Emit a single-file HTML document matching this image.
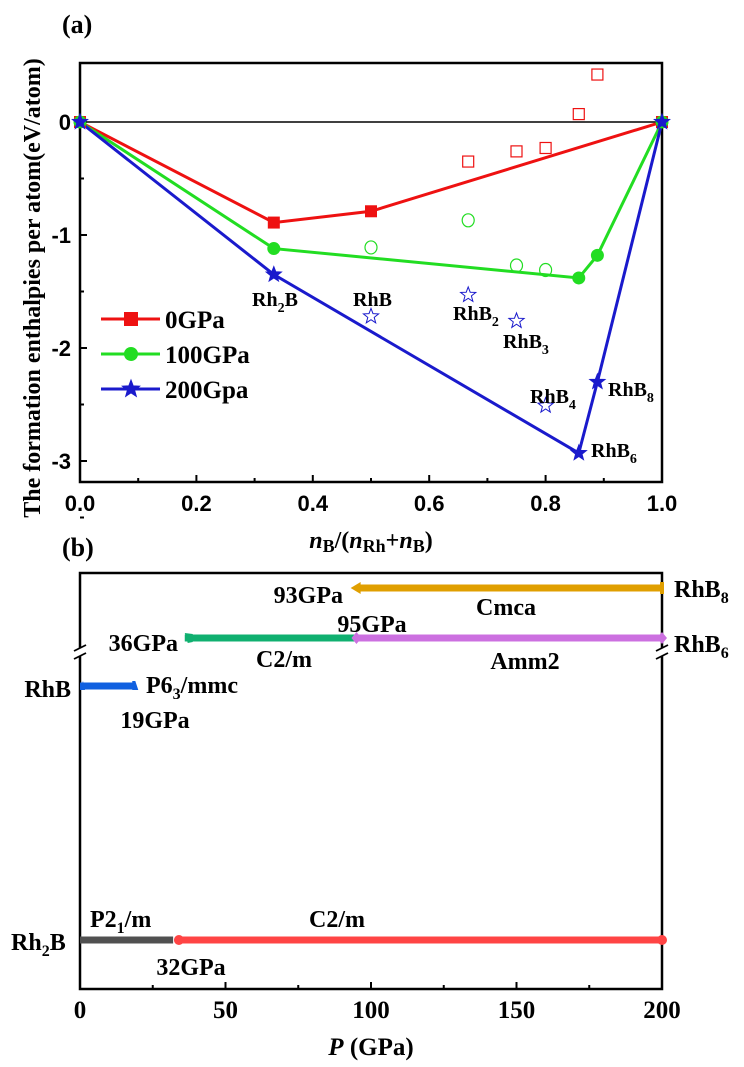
<!DOCTYPE html>
<html><head><meta charset="utf-8"><style>
html,body{margin:0;padding:0;background:#fff;}
svg{display:block;font-family:"Liberation Serif",serif;font-weight:bold;}
</style></head><body>
<svg id="chart" width="744" height="1067" viewBox="0 0 744 1067" xmlns="http://www.w3.org/2000/svg">
<g id="pa"></g>
<g id="pb"></g>
</svg>
<script>
// Panel (a) data
const line0X = [0, 0.333, 0.5, 1];
const line0Y = [0, -0.89, -0.79, 0];
const open0X = [0.667, 0.75, 0.8, 0.857, 0.889];
const open0Y = [-0.35, -0.26, -0.23, 0.07, 0.42];
const line100X = [0, 0.333, 0.857, 0.889, 1];
const line100Y = [0, -1.12, -1.38, -1.18, 0];
const open100X = [0.5, 0.667, 0.75, 0.8];
const open100Y = [-1.11, -0.87, -1.27, -1.31];
const line200X = [0, 0.333, 0.857, 0.889, 1];
const line200Y = [0, -1.35, -2.93, -2.3, 0];
const open200X = [0.5, 0.667, 0.75, 0.8];
const open200Y = [-1.72, -1.53, -1.76, -2.51];
const xTicksA = [0, 0.2, 0.4, 0.6, 0.8, 1.0];
const xTickLabelsA = ["0.0","0.2","0.4","0.6","0.8","1.0"];
const yTicksA = [0, -1, -2, -3];
// Panel (b) data
const xTicksB = [0, 50, 100, 150, 200];
const rhb8Range = [93, 200];
const rhb6C2m = [36, 95];
const rhb6Amm2 = [95, 200];
const rhbRange = [0, 19];
const rh2bP21 = [0, 32];
const rh2bC2m = [34, 200];

const NS = "http://www.w3.org/2000/svg";
function mk(parent, tag, attrs, text) {
  const e = document.createElementNS(NS, tag);
  for (const k in attrs) e.setAttribute(k, attrs[k]);
  if (text !== undefined) e.textContent = text;
  parent.appendChild(e);
  return e;
}
const pa = document.getElementById('pa');
const pb = document.getElementById('pb');
const SANS = '"Liberation Sans", Arial, sans-serif';

// axes a
const AX0 = 80, AX1 = 662, AY0 = 63, AY1 = 482;
const ax = v => AX0 + v * (AX1 - AX0);
const ay = v => 122 - v * 113;

let fr = mk(pa, 'rect', {x: AX0, y: AY0, width: AX1 - AX0, height: AY1 - AY0, fill: 'none', stroke: '#000', 'stroke-width': 2.5});


let zl = mk(pa, 'line', {x1: AX0, x2: AX1, y1: ay(0), y2: ay(0), stroke: '#000', 'stroke-width': 1.5});



xTicksA.forEach((t, i) => {
  mk(pa, 'line', {x1: ax(t), x2: ax(t), y1: AY1, y2: AY1 - 7, stroke: '#000', 'stroke-width': 2});
  if (i < xTicksA.length - 1) mk(pa, 'line', {x1: ax(t + 0.1), x2: ax(t + 0.1), y1: AY1, y2: AY1 - 4, stroke: '#000', 'stroke-width': 2});
  const tl = mk(pa, 'text', {x: ax(t), y: 511, 'text-anchor': 'middle', 'font-size': 22, 'font-family': SANS}, xTickLabelsA[i]);
  
  
});
yTicksA.forEach(t => {
  mk(pa, 'line', {x1: AX0, x2: AX0 + 7, y1: ay(t), y2: ay(t), stroke: '#000', 'stroke-width': 2});
  mk(pa, 'line', {x1: AX0, x2: AX0 + 4, y1: ay(t - 0.5), y2: ay(t - 0.5), stroke: '#000', 'stroke-width': 2});
  const tl = mk(pa, 'text', {x: AX0 - 9, y: ay(t) + 8, 'text-anchor': 'end', 'font-size': 22, 'font-family': SANS}, String(t));
  
  
});

function star(cx, cy, r, fill, stroke) {
  let p = [];
  for (let i = 0; i < 10; i++) {
    const rr = i % 2 ? r * 0.42 : r;
    const a = -Math.PI / 2 + i * Math.PI / 5;
    p.push((cx + rr * Math.cos(a)).toFixed(1) + ',' + (cy + rr * Math.sin(a)).toFixed(1));
  }
  return {points: p.join(' '), fill: fill, stroke: stroke, 'stroke-width': 1};
}
function series(xs, ys, color, name) {
  const pl = mk(pa, 'polyline', {points: xs.map((x, i) => ax(x) + ',' + ay(ys[i])).join(' '), fill: 'none', stroke: color, 'stroke-width': 3});
  
  
}
series(line0X, line0Y, '#ee1111', 'series-0gpa');
series(line100X, line100Y, '#22dd22', 'series-100gpa');
series(line200X, line200Y, '#1a1acc', 'series-200gpa');

line0X.forEach((x, i) => {
  const m = mk(pa, 'rect', {x: ax(x) - 6, y: ay(line0Y[i]) - 6, width: 12, height: 12, fill: '#ee1111'});
  
  
});
line100X.forEach((x, i) => {
  const m = mk(pa, 'circle', {cx: ax(x), cy: ay(line100Y[i]), r: 6.5, fill: '#22dd22'});
  
  
});
line200X.forEach((x, i) => {
  const m = mk(pa, 'polygon', star(ax(x), ay(line200Y[i]), 8, '#1a1acc', '#1a1acc'));
  
  
});
open0X.forEach((x, i) => {
  const m = mk(pa, 'rect', {x: ax(x) - 5.5, y: ay(open0Y[i]) - 5.5, width: 11, height: 11, fill: 'none', stroke: '#ee1111', 'stroke-width': 1.2});
  
  
});
open100X.forEach((x, i) => {
  const m = mk(pa, 'ellipse', {cx: ax(x), cy: ay(open100Y[i]), rx: 6, ry: 6.5, fill: 'none', stroke: '#22dd22', 'stroke-width': 1.2});
  
  
});
open200X.forEach((x, i) => {
  const m = mk(pa, 'polygon', star(ax(x), ay(open200Y[i]), 8, 'none', '#1a1acc'));
  
  
});

// compound labels
const labs = [
  ['Rh', '2', 'B', 252, 306], ['RhB', '', '', 353, 306], ['RhB', '2', '', 453, 320],
  ['RhB', '3', '', 503, 348], ['RhB', '4', '', 530, 403], ['RhB', '8', '', 608, 396], ['RhB', '6', '', 591, 457]
];
labs.forEach(l => {
  const t = mk(pa, 'text', {x: l[3], y: l[4], 'font-size': 20});
  
  
  mk(t, 'tspan', {}, l[0]);
  if (l[1]) mk(t, 'tspan', {dy: 6, 'font-size': 14}, l[1]);
  if (l[2]) mk(t, 'tspan', {dy: -6}, l[2]);
});

// legend
const legend = mk(pa, 'g', {});


[['0GPa', '#ee1111', 'sq', 319], ['100GPa', '#22dd22', 'ci', 354], ['200Gpa', '#1a1acc', 'st', 389]].forEach(e => {
  const g = mk(legend, 'g', {});
  
  
  mk(g, 'line', {x1: 101, x2: 160, y1: e[3], y2: e[3], stroke: e[1], 'stroke-width': 3});
  if (e[2] === 'sq') mk(g, 'rect', {x: 124, y: e[3] - 7, width: 14, height: 14, fill: e[1]});
  if (e[2] === 'ci') mk(g, 'circle', {cx: 131, cy: e[3], r: 7, fill: e[1]});
  if (e[2] === 'st') mk(g, 'polygon', star(131, e[3], 9, e[1], e[1]));
  mk(g, 'text', {x: 165, y: e[3] + 9, 'font-size': 25}, e[0]);
});

let t;
t = mk(pa, 'text', {x: 62, y: 33, 'font-size': 26}, '(a)');
 
t = mk(pa, 'text', {x: 0, y: 0, 'font-size': 24, 'text-anchor': 'middle', transform: 'translate(40,288) rotate(-90)'}, 'The formation enthalpies per atom(eV/atom)');
 
t = mk(pa, 'text', {x: 371, y: 548, 'font-size': 24, 'text-anchor': 'middle'});
 
mk(t, 'tspan', {'font-style': 'italic'}, 'n');
mk(t, 'tspan', {dy: 4, 'font-size': 18}, 'B');
mk(t, 'tspan', {dy: -4}, '/(');
mk(t, 'tspan', {'font-style': 'italic'}, 'n');
mk(t, 'tspan', {dy: 4, 'font-size': 18}, 'Rh');
mk(t, 'tspan', {dy: -4}, '+');
mk(t, 'tspan', {'font-style': 'italic'}, 'n');
mk(t, 'tspan', {dy: 4, 'font-size': 18}, 'B');
mk(t, 'tspan', {dy: -4}, ')');

// Panel b
const BX0 = 80, BX1 = 662, BY0 = 573, BY1 = 989;
const bx = v => BX0 + v / 200 * (BX1 - BX0);
fr = mk(pb, 'rect', {x: BX0, y: BY0, width: BX1 - BX0, height: BY1 - BY0, fill: 'none', stroke: '#000', 'stroke-width': 2.5});


// axis breaks
[BX0, BX1].forEach(x => {
  mk(pb, 'rect', {x: x - 4, y: 648, width: 8, height: 8, fill: '#fff'});
  mk(pb, 'line', {x1: x - 6, x2: x + 6, y1: 651, y2: 645, stroke: '#000', 'stroke-width': 1.8});
  mk(pb, 'line', {x1: x - 6, x2: x + 6, y1: 659, y2: 653, stroke: '#000', 'stroke-width': 1.8});
});
xTicksB.forEach((v, i) => {
  mk(pb, 'line', {x1: bx(v), x2: bx(v), y1: BY1, y2: BY1 - 7, stroke: '#000', 'stroke-width': 2});
  if (i < xTicksB.length - 1) mk(pb, 'line', {x1: bx(v + 25), x2: bx(v + 25), y1: BY1, y2: BY1 - 4, stroke: '#000', 'stroke-width': 2});
  const tl = mk(pb, 'text', {x: bx(v), y: 1018, 'text-anchor': 'middle', 'font-size': 25}, String(v));
  
  
});
function bar(a, b, y, color, name) {
  const r = mk(pb, 'rect', {x: bx(a), y: y - 3.5, width: bx(b) - bx(a), height: 7, fill: color});
  
  
}
// RhB8
bar(rhb8Range[0] + 2, rhb8Range[1], 588, '#e09f00', 'rhb8-cmca-bar');
mk(pb, 'polygon', {points: `${bx(rhb8Range[0])},588 ${bx(rhb8Range[0]) + 10},582 ${bx(rhb8Range[0]) + 10},594`, fill: '#e09f00'});
mk(pb, 'rect', {x: bx(rhb8Range[1]) - 2, y: 582, width: 4, height: 12, fill: '#e09f00'});
// RhB6
bar(rhb6C2m[0], rhb6C2m[1], 638, '#10b070', 'rhb6-c2m-bar');
mk(pb, 'polygon', {points: `${bx(rhb6C2m[0])},633 ${bx(rhb6C2m[0]) + 8},634 ${bx(rhb6C2m[0]) + 8},642 ${bx(rhb6C2m[0]) + 3},643`, fill: '#10b070'});
bar(rhb6Amm2[0], rhb6Amm2[1], 638, '#cc70e0', 'rhb6-amm2-bar');
[rhb6Amm2[0], rhb6Amm2[1]].forEach(v => mk(pb, 'polygon', {points: `${bx(v) - 5},638 ${bx(v)},632 ${bx(v) + 5},638 ${bx(v)},644`, fill: '#cc70e0'}));
// RhB
bar(rhbRange[0], rhbRange[1], 686, '#1060e0', 'rhb-p63mmc-bar');
mk(pb, 'polygon', {points: `${bx(rhbRange[0])},690 ${bx(rhbRange[0]) + 3},681 ${bx(rhbRange[0]) + 5},690`, fill: '#1060e0'});
mk(pb, 'polygon', {points: `${bx(rhbRange[1]) - 3},681 ${bx(rhbRange[1])},681 ${bx(rhbRange[1]) + 3},690 ${bx(rhbRange[1]) - 3},690`, fill: '#1060e0'});
// Rh2B
bar(rh2bP21[0], rh2bP21[1], 940, '#505050', 'rh2b-p21m-bar');
bar(rh2bC2m[0], rh2bC2m[1], 940, '#ff4444', 'rh2b-c2m-bar');
mk(pb, 'circle', {cx: bx(rh2bC2m[0]), cy: 940, r: 5, fill: '#ff4444'});
mk(pb, 'circle', {cx: bx(rh2bC2m[1]), cy: 940, r: 5, fill: '#ff4444'});

function lbl(txt, x, y, anchor, name, sub, after) {
  const e = mk(pb, 'text', {x: x, y: y, 'font-size': 24, 'text-anchor': anchor || 'start'});
  
  
  mk(e, 'tspan', {}, txt);
  if (sub) mk(e, 'tspan', {dy: 6, 'font-size': 16}, sub);
  if (after) mk(e, 'tspan', {dy: -6}, after);
}
lbl('93GPa', 343, 603, 'end', 'transition-93gpa');
lbl('Cmca', 506, 615, 'middle', 'phase-cmca');
lbl('95GPa', 372, 632, 'middle', 'transition-95gpa');
lbl('36GPa', 178, 651, 'end', 'transition-36gpa');
lbl('C2/m', 284, 667, 'middle', 'phase-c2m-rhb6');
lbl('Amm2', 525, 669, 'middle', 'phase-amm2');
lbl('RhB', 674, 597, 'start', 'compound-rhb8', '8');
lbl('RhB', 674, 652, 'start', 'compound-rhb6', '6');
lbl('RhB', 71, 697, 'end', 'compound-rhb');
lbl('P6', 146, 693, 'start', 'phase-p63mmc', '3', '/mmc');
lbl('19GPa', 155, 728, 'middle', 'transition-19gpa');
lbl('P2', 90, 927, 'start', 'phase-p21m', '1', '/m');
lbl('C2/m', 337, 927, 'middle', 'phase-c2m-rh2b');
lbl('Rh', 11, 950, 'start', 'compound-rh2b', '2', 'B');
lbl('32GPa', 191, 975, 'middle', 'transition-32gpa');
t = mk(pb, 'text', {x: 62, y: 556, 'font-size': 26}, '(b)');
 
t = mk(pb, 'text', {x: 371, y: 1055, 'font-size': 25, 'text-anchor': 'middle'});
 
mk(t, 'tspan', {'font-style': 'italic'}, 'P');
mk(t, 'tspan', {}, ' (GPa)');
</script>
</body></html>
